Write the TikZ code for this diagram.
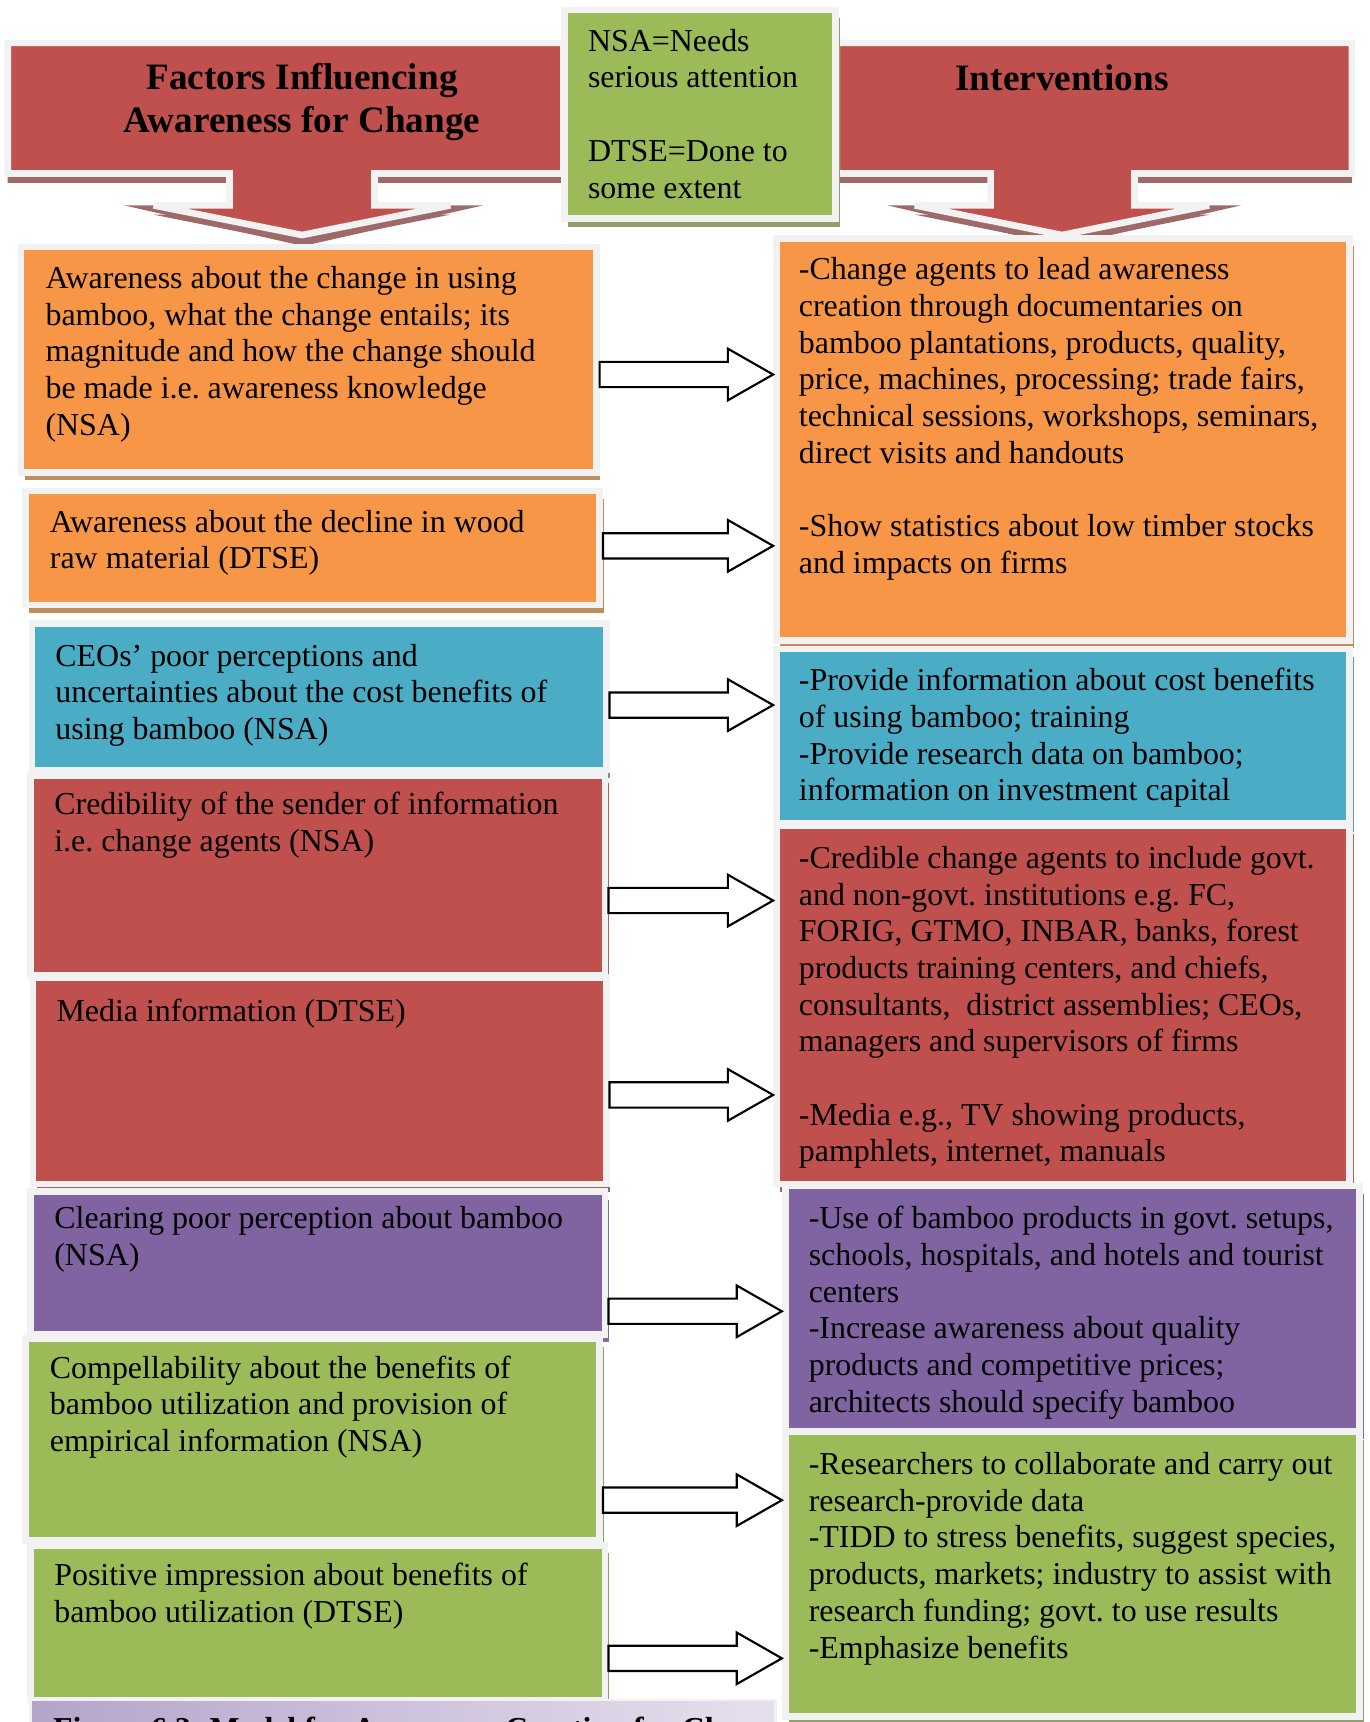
\documentclass[tikz,border=0pt]{standalone}
\usepackage{fontspec}
\setmainfont{Liberation Serif}
\usetikzlibrary{calc,fit,shadows}

\definecolor{hdrred}{HTML}{C0504D}
\definecolor{orng}{HTML}{F79646}
\definecolor{blu}{HTML}{4BACC6}
\definecolor{purp}{HTML}{8064A2}
\definecolor{grn}{HTML}{9BBB59}
\definecolor{brd}{HTML}{F2F2F2}
\definecolor{lavdark}{HTML}{B5A4CA}
\definecolor{lavlight}{HTML}{E6E0EE}

\begin{document}
\frenchspacing
\begin{tikzpicture}[x=0.413pt, y=-0.413pt,
    box/.style={draw=brd, line width=2.5pt, inner sep=0pt, fill=#1,
        drop shadow={shadow xshift=1.5pt, shadow yshift=-3pt, fill=#1!55!gray, opacity=1}},
    hdr/.style={draw=brd, line width=2.5pt, fill=hdrred,
        drop shadow={shadow xshift=0pt, shadow yshift=-3.5pt, fill=hdrred!45!gray, opacity=1}},
    hdrshadow/.style={fill=hdrred!45!gray},
    hdrtext/.style={anchor=north, inner sep=0pt, align=center, font=\bfseries\fontsize{14}{16.3}\selectfont},
    ltext/.style={anchor=north west, inner sep=0pt, align=left, font=\fontsize{12}{13.8}\selectfont},
    blockarr/.style={draw=black, fill=white, line width=0.8pt, line join=miter,
        to path={let \p1=(\tikztostart), \p2=(\tikztotarget) in
            (\x1,\y1+4.75pt) -- (\x2-17pt,\y1+4.75pt) -- (\x2-17pt,\y1+9.7pt) -- (\x2,\y1)
            -- (\x2-17pt,\y1-9.7pt) -- (\x2-17pt,\y1-4.75pt) -- (\x1,\y1-4.75pt) -- cycle}}]

    \path[use as bounding box] (0,0) rectangle (1247,1568);
    \clip (0,0) rectangle (1247,1568);

    % headers
    \fill[hdrshadow] (113,187) -- (440,187) -- (276,224) -- cycle;
    \fill[hdrshadow] (808,187) -- (1130,187) -- (968,224) -- cycle;
    \draw[hdr] (7,39) -- (513,39) -- (513,158) -- (341,158) -- (341,187) -- (410,187)
        -- (275,214) -- (140,187) -- (209,187) -- (209,158) -- (7,158) -- cycle;
    \draw[hdr] (762,39) -- (1231,39) -- (1231,158) -- (1033,158) -- (1033,187) -- (1101,187)
        -- (967,214) -- (833,187) -- (902,187) -- (902,158) -- (762,158) -- cycle;
    \node[hdrtext] (factors) at (275,57) {Factors Influencing\\Awareness for Change};
    \node[hdrtext] (interv) at (967,58) {Interventions};

    % legend
    \node[box=grn, fit={(514,9) (761,199)}] (legend) {};
    \node[ltext] (legendt) at (535,26) {NSA=Needs\\serious attention\\[13.8pt]DTSE=Done to\\some extent};

    % factors
    \node[box=orng, fit={(19,225) (543,430)}] (f1) {};
    \node[box=orng, fit={(23,447) (546,551)}] (f2) {};
    \node[box=blu, fit={(29,568) (552,701)}] (f3) {};
    \node[box=hdrred, fit={(28,706) (551,888)}] (f4) {};
    \node[box=hdrred, fit={(30,890) (552,1078)}] (f5) {};
    \node[box=purp, fit={(28,1085) (551,1215)}] (f6) {};
    \node[box=grn, fit={(23,1219) (546,1403)}] (f7) {};
    \node[box=grn, fit={(28,1407) (551,1548)}] (f8) {};

    \node[ltext] (f1t) at (41,242) {Awareness about the change in using\\bamboo, what the change entails; its\\magnitude and how the change should\\be made i.e. awareness knowledge\\(NSA)};
    \node[ltext] (f2t) at (45,464) {Awareness about the decline in wood\\raw material (DTSE)};
    \node[ltext] (f3t) at (50,586) {CEOs’ poor perceptions and\\uncertainties about the cost benefits of\\using bamboo (NSA)};
    \node[ltext] (f4t) at (49,721) {Credibility of the sender of information\\i.e. change agents (NSA)};
    \node[ltext] (f5t) at (51,909) {Media information (DTSE)};
    \node[ltext] (f6t) at (49,1098) {Clearing poor perception about bamboo\\(NSA)};
    \node[ltext] (f7t) at (45,1234) {Compellability about the benefits of\\bamboo utilization and provision of\\empirical information (NSA)};
    \node[ltext] (f8t) at (49,1423) {Positive impression about benefits of\\bamboo utilization (DTSE)};

    % interventions
    \node[box=orng, fit={(707,217) (1229,583)}] (i1) {};
    \node[box=blu, fit={(707,591) (1229,750)}] (i2) {};
    \node[box=hdrred, fit={(707,752) (1229,1078)}] (i3) {};
    \node[box=purp, fit={(715,1080) (1238,1303)}] (i4) {};
    \node[box=grn, fit={(715,1304) (1238,1563)}] (i5) {};

    \node[ltext] (i1t) at (727,234) {-Change agents to lead awareness\\creation through documentaries on\\bamboo plantations, products, quality,\\price, machines, processing; trade fairs,\\technical sessions, workshops, seminars,\\direct visits and handouts\\[13.8pt]-Show statistics about low timber stocks\\and impacts on firms};
    \node[ltext] (i2t) at (727,608) {-Provide information about cost benefits\\of using bamboo; training\\-Provide research data on bamboo;\\information on investment capital};
    \node[ltext] (i3t) at (727,770) {-Credible change agents to include govt.\\and non-govt. institutions e.g. FC,\\FORIG, GTMO, INBAR, banks, forest\\products training centers, and chiefs,\\consultants,\ \ district assemblies; CEOs,\\managers and supervisors of firms\\[13.8pt]-Media e.g., TV showing products,\\pamphlets, internet, manuals};
    \node[ltext] (i4t) at (736,1098) {-Use of bamboo products in govt. setups,\\schools, hospitals, and hotels and tourist\\centers\\-Increase awareness about quality\\products and competitive prices;\\architects should specify bamboo};
    \node[ltext] (i5t) at (736,1322) {-Researchers to collaborate and carry out\\research-provide data\\-TIDD to stress benefits, suggest species,\\products, markets; industry to assist with\\research funding; govt. to use results\\-Emphasize benefits};

    % arrow levels
    \coordinate (lv1) at (0,341);
    \coordinate (lv2) at (0,497);
    \coordinate (lv3) at (0,642);
    \coordinate (lv4) at (0,820);
    \coordinate (lv5) at (0,997);
    \coordinate (lv6) at (0,1194);
    \coordinate (lv7) at (0,1366);
    \coordinate (lv8) at (0,1510);

    \draw[blockarr] (f1.east |- lv1) to (i1.west |- lv1);
    \draw[blockarr] (f2.east |- lv2) to (i1.west |- lv2);
    \draw[blockarr] (f3.east |- lv3) to (i2.west |- lv3);
    \draw[blockarr] (f4.east |- lv4) to (i3.west |- lv4);
    \draw[blockarr] (f5.east |- lv5) to (i3.west |- lv5);
    \draw[blockarr] (f6.east |- lv6) to (i4.west |- lv6);
    \draw[blockarr] (f7.east |- lv7) to (i5.west |- lv7);
    \draw[blockarr] (f8.east |- lv8) to (i5.west |- lv8);

    % caption (cut off at the page edge, as in the source)
    \node[fit={(28,1548) (706,1610)}, inner sep=0pt, draw=brd, line width=1pt, left color=lavdark, right color=lavlight] (cap) {};
    \node[ltext, font=\bfseries\fontsize{12}{13.8}\selectfont] (capt) at (48,1563) {Figure 6.2: Model for Awareness Creation for Change};
\end{tikzpicture}
\end{document}
